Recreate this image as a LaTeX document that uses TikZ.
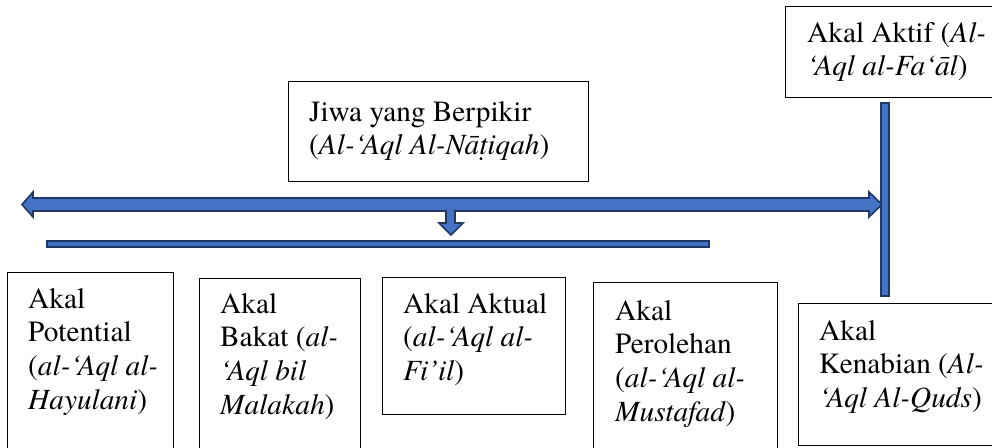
\documentclass[tikz,border=0pt]{standalone}
\usepackage{fontspec}
\setmainfont{texgyretermes}[Extension=.otf, UprightFont=*-regular, ItalicFont=*-italic, BoldFont=*-bold, BoldItalicFont=*-bolditalic]
\definecolor{arrfill}{HTML}{4472C4}
\definecolor{arrline}{HTML}{203864}
\tikzset{
  box/.style={draw=black, line width=1.3pt, fill=white, anchor=north west, inner sep=0pt},
  txt/.style={anchor=north west, inner sep=0pt, align=left, font=\fontsize{29.3}{33.6}\selectfont},
  blockarrow/.style={fill=arrfill, draw=arrline, line width=1.6pt, line join=miter},
}
\begin{document}
\begin{tikzpicture}[x=1pt,y=-1pt]
\useasboundingbox (0,0) rectangle (992,447);
\clip (0,0) rectangle (992,447);

% boxes
\node[box, minimum width=300, minimum height=100] (jiwa) at (288,81) {};
\node[box, minimum width=215, minimum height=91] (aktif) at (785,6) {};
\node[box, minimum width=166, minimum height=208] (pot) at (7,272) {};
\node[box, minimum width=161, minimum height=200] (bakat) at (199,278) {};
\node[box, minimum width=183, minimum height=137] (aktual) at (382,277) {};
\node[box, minimum width=184, minimum height=200] (oleh) at (593,282) {};
\node[box, minimum width=200, minimum height=142] (nabi) at (798,303) {};

% texts
\node[txt] (tjiwa) at (309,97.5) {\strut Jiwa yang Berpikir\\(\textit{Al-‘Aql Al-Nāṭiqah})};
\node[txt] (taktif) at (807,18.5) {\strut Akal Aktif (\textit{Al-}\\\textit{‘Aql al-Fa‘āl})};
\node[txt] (tpot) at (28,284.5) {\strut Akal\\Potential\\(\textit{al-‘Aql al-}\\\textit{Hayulani})};
\node[txt] (tbakat) at (220,289.5) {\strut Akal\\Bakat (\textit{al-}\\\textit{‘Aql bil}\\\textit{Malakah})};
\node[txt] (taktual) at (403,289.5) {\strut Akal Aktual\\(\textit{al-‘Aql al-}\\\textit{Fi’il})};
\node[txt] (toleh) at (615,296.5) {\strut Akal\\Perolehan\\(\textit{al-‘Aql al-}\\\textit{Mustafad})};
\node[txt] (tnabi) at (819,316.5) {\strut Akal\\Kenabian (\textit{Al-}\\\textit{‘Aql Al-Quds})};

% block arrows
\draw[blockarrow] (22,204.5) -- (33,192) -- (33,198) -- (869,198) -- (869,192) -- (882,204.5)
  -- (869,217) -- (869,211) -- (455,211) -- (455,223) -- (463,223) -- (451,235)
  -- (439,223) -- (446,223) -- (446,211) -- (33,211) -- (33,217) -- cycle;
\draw[blockarrow] (47,241) rectangle (709,247);
\draw[blockarrow] (881,103) rectangle (889,296);
\end{tikzpicture}
\end{document}
